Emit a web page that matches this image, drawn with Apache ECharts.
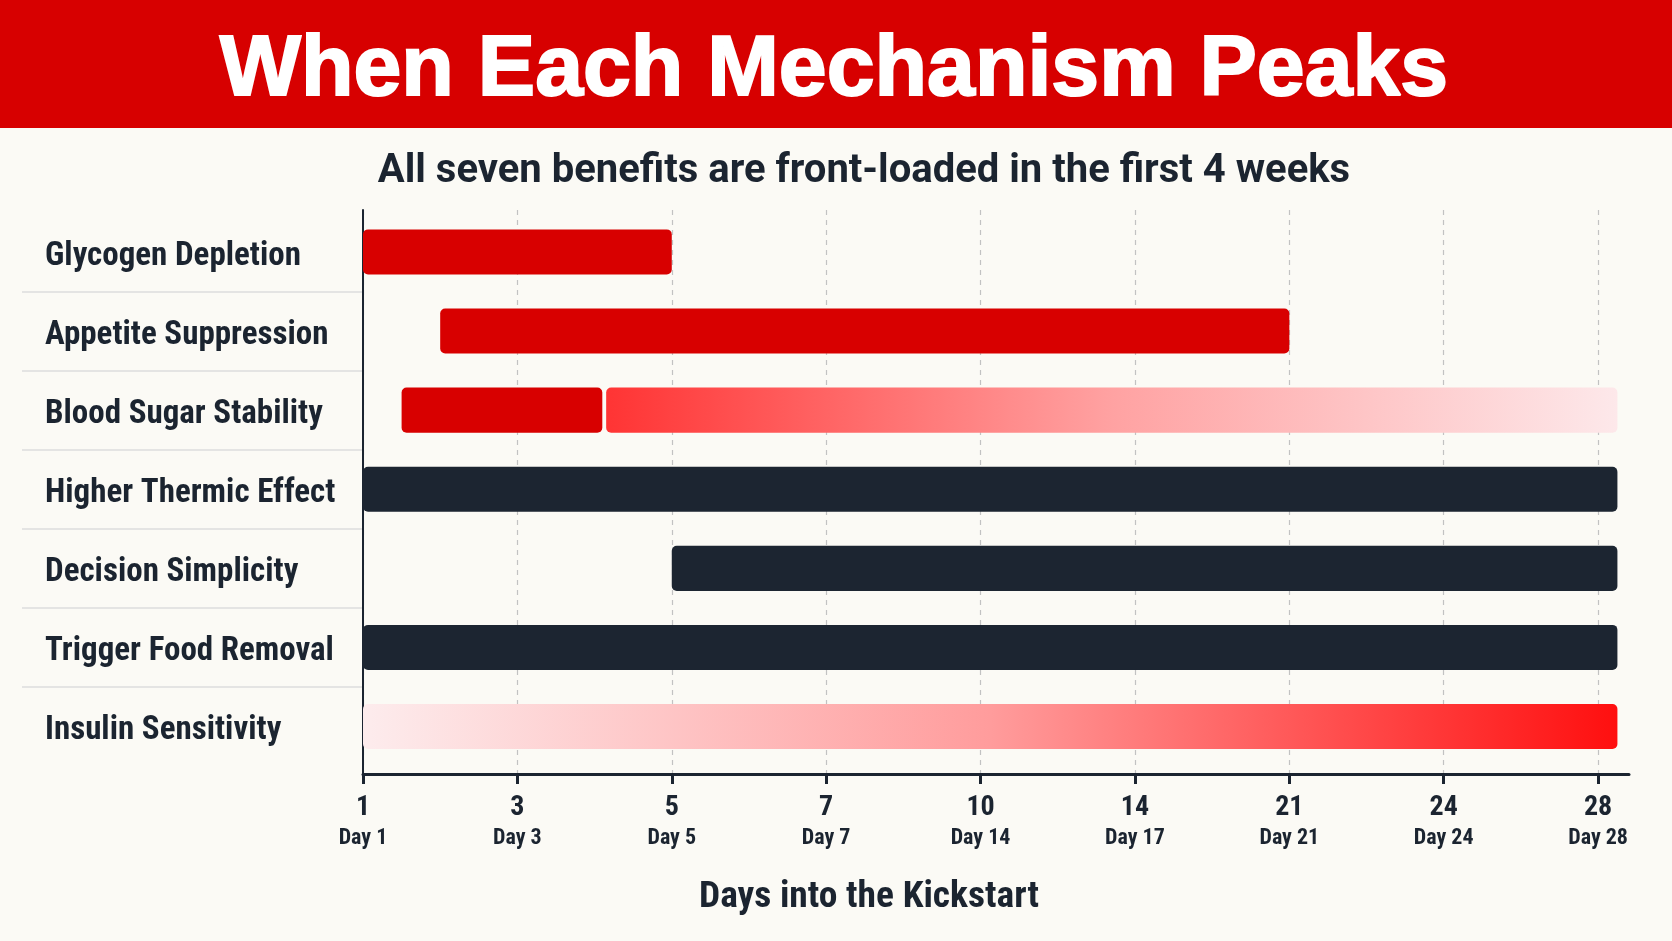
<!DOCTYPE html>
<html>
<head>
<meta charset="utf-8">
<title>When Each Mechanism Peaks</title>
<script src="https://cdn.jsdelivr.net/npm/echarts@6/dist/echarts.min.js"></script>
<style>
  html, body { margin: 0; padding: 0; background: #fbfaf5; }
  #chart { width: 1672px; height: 941px; }
</style>
</head>
<body>
<div id="chart"></div>
<script>
const mechanisms = [
  'Glycogen Depletion',
  'Appetite Suppression',
  'Blood Sugar Stability',
  'Higher Thermic Effect',
  'Decision Simplicity',
  'Trigger Food Removal',
  'Insulin Sensitivity'
]

// axis ticks: the number row and the "Day" row under it
const tickDays = [1, 3, 5, 7, 10, 14, 21, 24, 28]
const tickDayLabels = ['Day 1', 'Day 3', 'Day 5', 'Day 7', 'Day 14', 'Day 17', 'Day 21', 'Day 24', 'Day 28']

// one entry per drawn bar: row, start day, end day, phase
const segmentRow = [0, 1, 2, 2, 3, 4, 5, 6]
const segmentStart = [1, 2, 1.5, 4.15, 1, 5, 1, 1]
const segmentEnd = [5, 21, 4.1, 28.5, 28.5, 28.5, 28.5, 28.5]
const segmentPhase = ['peak', 'peak', 'peak', 'fading', 'ongoing', 'ongoing', 'ongoing', 'building']

const ink = '#1b2430'
const condensed = "'Roboto Condensed', 'DejaVu Sans Condensed', sans-serif"

const phaseFill = {
  peak: '#d80000',
  ongoing: '#1c2531',
  fading: new echarts.graphic.LinearGradient(0, 0, 1, 0, [
    { offset: 0, color: '#ff3434' },
    { offset: 0.5, color: '#ffa2a2' },
    { offset: 1, color: '#fde8ea' }
  ]),
  building: new echarts.graphic.LinearGradient(0, 0, 1, 0, [
    { offset: 0, color: '#fdeced' },
    { offset: 0.5, color: '#ff9c9c' },
    { offset: 1, color: '#ff0f0f' }
  ])
}

// the axis puts its ticks at even steps, so days are placed between the ticks they fall in
function dayToAxis (day) {
  const last = tickDays.length - 1
  for (let i = 1; i <= last; i++) {
    if (day <= tickDays[i] || i === last) {
      return i - 1 + (day - tickDays[i - 1]) / (tickDays[i] - tickDays[i - 1])
    }
  }
}

const barData = segmentRow.map((row, i) => [dayToAxis(segmentStart[i]), dayToAxis(segmentEnd[i]), row])
const tickIndex = tickDays.map((d, i) => i)
const rowIndex = mechanisms.map((m, i) => i)
const rowBorders = mechanisms.slice(1).map((m, i) => i + 0.5)

const rowMin = -0.53
const rowMax = 6.6

const chart = echarts.init(document.getElementById('chart'))

chart.setOption({
  backgroundColor: '#fbfaf5',
  animation: false,
  graphic: [
    { type: 'rect', left: 0, top: 0, shape: { width: 1672, height: 128 }, style: { fill: '#d70000' }, z: 0 },
    {
      type: 'text', x: 834, y: 71, z: 1,
      style: {
        text: 'When Each Mechanism Peaks', fill: '#ffffff', fontSize: 86, fontWeight: 'bold',
        fontFamily: "'Liberation Sans', Arial, sans-serif", align: 'center', verticalAlign: 'middle',
        stroke: '#ffffff', lineWidth: 2
      }
    },
    {
      type: 'text', x: 864, y: 172, z: 1,
      style: { text: 'All seven benefits are front-loaded in the first 4 weeks', fill: ink, fontSize: 40, fontWeight: 'bold', fontFamily: 'Roboto, sans-serif', align: 'center', verticalAlign: 'middle' }
    },
    {
      type: 'text', x: 869, y: 898, z: 1,
      style: { text: 'Days into the Kickstart', fill: ink, fontSize: 37.5, fontWeight: 'bold', fontFamily: condensed, align: 'center', verticalAlign: 'middle' }
    }
  ],
  grid: [
    { left: 363, right: 43, top: 210, bottom: 167 },
    { left: 22, width: 340, top: 210, bottom: 167 }
  ],
  xAxis: [
    {
      type: 'value',
      gridIndex: 0,
      min: 0,
      max: 8.2,
      interval: 1,
      axisLine: { show: true, onZero: false, lineStyle: { color: ink, width: 3 } },
      axisTick: { show: true, customValues: tickIndex, length: 10, lineStyle: { color: ink, width: 3 } },
      splitLine: { show: true, lineStyle: { type: [5, 5], color: '#c2c2c2', width: 1.2 } },
      axisLabel: {
        customValues: tickIndex,
        margin: 18,
        formatter: (v) => '{n|' + tickDays[v] + '}\n{d|' + tickDayLabels[v] + '}',
        rich: {
          n: { fontSize: 28, fontWeight: 'bold', fontFamily: condensed, color: ink, lineHeight: 32, align: 'center' },
          d: { fontSize: 22, fontWeight: 'bold', fontFamily: condensed, color: ink, lineHeight: 28, align: 'center' }
        }
      }
    },
    { type: 'value', gridIndex: 1, show: false, min: 0, max: 1 }
  ],
  yAxis: [
    {
      type: 'value',
      gridIndex: 0,
      inverse: true,
      min: rowMin,
      max: rowMax,
      axisLine: { show: true, onZero: false, lineStyle: { color: ink, width: 2 } },
      axisTick: { show: false },
      splitLine: { show: false },
      axisLabel: {
        customValues: rowIndex,
        formatter: (v) => mechanisms[v],
        align: 'left',
        verticalAlign: 'top',
        lineHeight: 9,
        margin: 318,
        color: ink,
        fontSize: 33,
        fontWeight: 'bold',
        fontFamily: condensed
      }
    },
    {
      type: 'value',
      gridIndex: 1,
      inverse: true,
      min: rowMin,
      max: rowMax,
      axisLine: { show: false },
      axisLabel: { show: false },
      axisTick: { show: false, customValues: rowBorders },
      splitLine: { show: true, lineStyle: { color: '#dcdcdc', width: 1.5 } }
    }
  ],
  series: [
    {
      type: 'custom',
      xAxisIndex: 0,
      yAxisIndex: 0,
      encode: { x: [0, 1], y: 2 },
      data: barData,
      renderItem: function (params, api) {
        const row = api.value(2)
        const start = api.coord([api.value(0), row])
        const end = api.coord([api.value(1), row])
        const h = api.size([0, 1])[1] * 0.57
        return {
          type: 'rect',
          shape: { x: start[0], y: start[1] - h / 2, width: end[0] - start[0], height: h, r: 5 },
          style: { fill: phaseFill[segmentPhase[params.dataIndex]] }
        }
      }
    }
  ]
})
</script>
</body>
</html>
